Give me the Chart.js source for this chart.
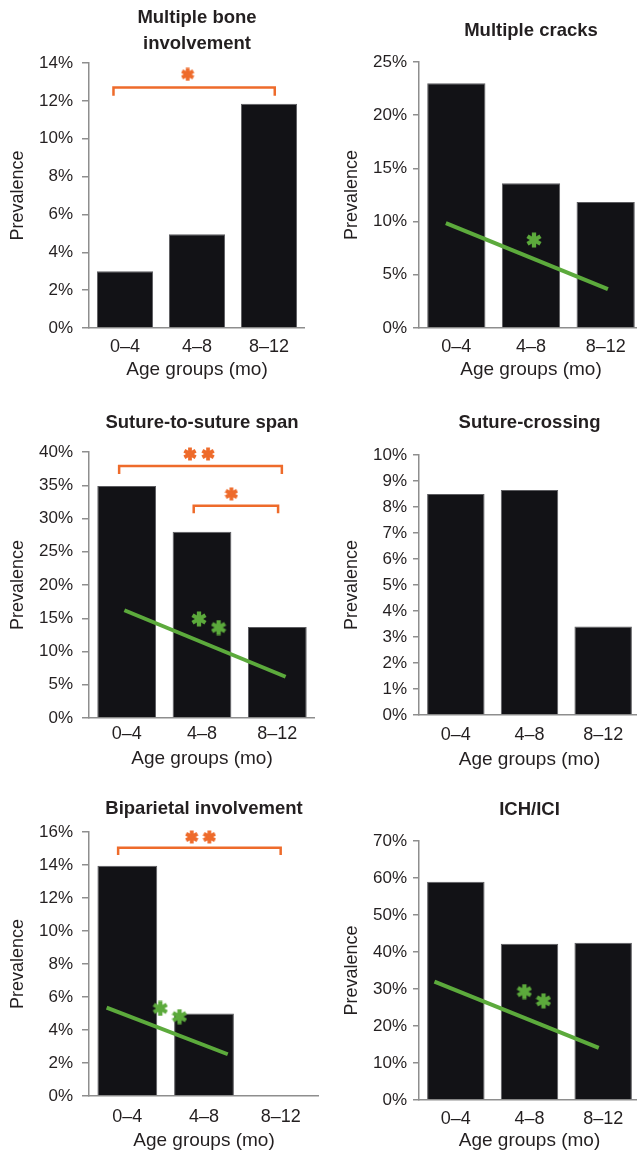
<!DOCTYPE html>
<html>
<head>
<meta charset="utf-8">
<script src="https://cdn.jsdelivr.net/npm/chart.js@4/dist/chart.umd.min.js"></script>
<style>
  body { margin: 0; width: 637px; height: 1152px; overflow: hidden; background: #fff; position: relative; }
  canvas { position: absolute; }
</style>
</head>
<body>
<script>
const ageGroups = ['0–4', '4–8', '8–12']

// prevalence (%) per age group
const boneValues = [3.0, 4.95, 11.85]
const cracksValues = [23.0, 13.6, 11.85]
const spanValues = [34.9, 28.0, 13.7]
const crossingValues = [8.5, 8.65, 3.4]
const biparietalValues = [13.95, 5.0, 0]
const ichValues = [59.0, 42.2, 42.5]

// green trend lines; x is the position on the age axis (0 = first group)
const cracksTrend = [{ x: -0.14, y: 9.85 }, { x: 2.03, y: 3.65 }]
const spanTrend = [{ x: -0.03, y: 16.2 }, { x: 2.11, y: 6.2 }]
const biparietalTrend = [{ x: -0.27, y: 5.35 }, { x: 1.31, y: 2.53 }]
const ichTrend = [{ x: -0.29, y: 32.0 }, { x: 1.94, y: 14.1 }]

// orange brackets: [from, to, level, foot]
const boneBrackets = [[-0.16, 2.08, 12.7, 12.27]]
const spanBrackets = [[-0.1, 2.06, 37.9, 36.7], [0.89, 2.01, 31.9, 30.8]]
const biparietalBrackets = [[-0.12, 2.0, 15.05, 14.6]]

// significance asterisks
const boneOrange = [{ x: 0.87, y: 13.4 }]
const spanOrange = [{ x: 0.84, y: 39.7 }, { x: 1.08, y: 39.7 }, { x: 1.39, y: 33.7 }]
const biparietalOrange = [{ x: 0.84, y: 15.7 }, { x: 1.07, y: 15.7 }]
const cracksGreen = [{ x: 1.04, y: 8.27 }]
const spanGreen = [{ x: 0.96, y: 14.9 }, { x: 1.22, y: 13.6 }]
const biparietalGreen = [{ x: 0.43, y: 5.31 }, { x: 0.68, y: 4.81 }]
const ichGreen = [{ x: 0.93, y: 29.3 }, { x: 1.19, y: 26.8 }]

const ORANGE = '#ee6b2b'
const GREEN = '#5caa3c'
const INK = '#231f20'
const AXIS = '#8e8e8e'
const FONT = "'Liberation Sans', Arial, Helvetica, sans-serif"

function makeStar(color, size) {
  const c = document.createElement('canvas')
  c.width = size
  c.height = size
  const ctx = c.getContext('2d')
  ctx.strokeStyle = color
  ctx.lineWidth = size * 0.27
  ctx.translate(size / 2, size / 2)
  const r = size / 2 - 0.5
  for (let i = 0; i < 3; i++) {
    const a = Math.PI / 2 + (i * Math.PI) / 3
    ctx.beginPath()
    ctx.moveTo(Math.cos(a) * r, Math.sin(a) * r)
    ctx.lineTo(-Math.cos(a) * r, -Math.sin(a) * r)
    ctx.stroke()
  }
  return c
}

const orangeStar = makeStar(ORANGE, 14)
const greenStar = makeStar(GREEN, 16)

function bracketPoints([from, to, level, foot]) {
  return [
    { x: from, y: foot },
    { x: from, y: level },
    { x: to, y: level },
    { x: to, y: foot },
  ]
}

const panels = [
  {
    title: ['Multiple bone', 'involvement'], values: boneValues, max: 14, step: 2,
    x: 0, y: 0, w: 305, h: 390, left: 89, titleTop: 5, titleBottom: 6,
    tickLen: 7, tickPad: 9, yTitle: 7, xPad: 8, xTitle: 9,
    brackets: boneBrackets, orange: boneOrange,
  },
  {
    title: 'Multiple cracks', values: cracksValues, max: 25, step: 5,
    x: 318, y: 0, w: 325, h: 390, left: 101, titleTop: 18, titleBottom: 18,
    tickLen: 6, tickPad: 6, yTitle: 23, xPad: 8, xTitle: 9,
    trend: cracksTrend, green: cracksGreen,
  },
  {
    title: 'Suture-to-suture span', values: spanValues, max: 40, step: 5,
    x: 0, y: 390, w: 315, h: 390, left: 89, titleTop: 20, titleBottom: 16,
    tickLen: 7, tickPad: 9, yTitle: 7, xPad: 5, xTitle: 10,
    trend: spanTrend, green: spanGreen, brackets: spanBrackets, orange: spanOrange,
  },
  {
    title: 'Suture-crossing', values: crossingValues, max: 10, step: 1,
    x: 318, y: 390, w: 322, h: 390, left: 101, titleTop: 20, titleBottom: 19,
    tickLen: 6, tickPad: 6, yTitle: 23, xPad: 9, xTitle: 9,
  },
  {
    title: 'Biparietal involvement', values: biparietalValues, max: 16, step: 2,
    x: 0, y: 780, w: 319, h: 372, left: 89, titleTop: 16, titleBottom: 10,
    tickLen: 7, tickPad: 9, yTitle: 7, xPad: 10, xTitle: 0,
    trend: biparietalTrend, green: biparietalGreen, brackets: biparietalBrackets, orange: biparietalOrange,
  },
  {
    title: 'ICH/ICI', values: ichValues, max: 70, step: 10,
    x: 318, y: 780, w: 322, h: 372, left: 101, titleTop: 17, titleBottom: 18,
    tickLen: 6, tickPad: 6, yTitle: 23, xPad: 8, xTitle: 0,
    trend: ichTrend, green: ichGreen,
  },
]
// bottom edge of each plot area, in panel coordinates
const plotBottoms = [328, 328, 328, 325, 316, 320]

panels.forEach((p, i) => {
  const canvas = document.createElement('canvas')
  canvas.width = p.w
  canvas.height = p.h
  canvas.style.left = p.x + 'px'
  canvas.style.top = p.y + 'px'
  document.body.appendChild(canvas)

  const datasets = [
    {
      type: 'bar',
      data: p.values,
      backgroundColor: '#121216',
      borderColor: '#5c5c60',
      borderWidth: (c) => (c.raw > 0 ? 1 : 0),
      grouped: false,
      barPercentage: 0.78,
      categoryPercentage: 1,
      order: 10,
    },
  ]
  if (p.trend) {
    datasets.push({
      type: 'line', xAxisID: 'xl', data: p.trend,
      borderColor: GREEN, borderWidth: 4, pointRadius: 0, order: 2,
    })
  }
  ;(p.brackets || []).forEach((b) => {
    datasets.push({
      type: 'line', xAxisID: 'xl', data: bracketPoints(b),
      borderColor: ORANGE, borderWidth: 2.5, borderJoinStyle: 'miter', pointRadius: 0, order: 2,
    })
  })
  if (p.orange) {
    datasets.push({
      type: 'scatter', xAxisID: 'xl', data: p.orange, clip: false,
      pointStyle: orangeStar, pointRadius: 7, order: 1,
    })
  }
  if (p.green) {
    datasets.push({
      type: 'scatter', xAxisID: 'xl', data: p.green, clip: false,
      pointStyle: greenStar, pointRadius: 8, order: 1,
    })
  }

  new Chart(canvas, {
    data: { labels: ageGroups, datasets },
    options: {
      responsive: false,
      animation: false,
      devicePixelRatio: 1,
      layout: { padding: 0, autoPadding: false },
      plugins: {
        legend: { display: false },
        tooltip: { enabled: false },
        title: {
          display: true,
          text: p.title,
          fullSize: false,
          color: INK,
          font: { family: FONT, size: 18.5, weight: 'bold', lineHeight: '26px' },
          padding: { top: p.titleTop, bottom: p.titleBottom },
        },
      },
      scales: {
        x: {
          type: 'category',
          offset: true,
          grid: { display: false, drawTicks: false },
          border: { color: AXIS, width: 1.5 },
          ticks: { color: INK, font: { family: FONT, size: 18 }, padding: p.xPad },
          title: {
            display: true, text: 'Age groups (mo)', color: INK,
            font: { family: FONT, size: 19 }, padding: { top: 0, bottom: p.xTitle },
          },
          afterFit: (s) => { s.height = p.h - plotBottoms[i] },
        },
        xl: {
          type: 'linear', display: false, min: -0.5, max: 2.5,
          ticks: { display: false },
        },
        y: {
          min: 0,
          max: p.max,
          grid: { drawOnChartArea: false, tickLength: p.tickLen, color: AXIS, lineWidth: 1.5 },
          border: { color: AXIS, width: 1.5 },
          ticks: {
            stepSize: p.step, color: INK, padding: p.tickPad,
            font: { family: FONT, size: 17 },
            callback: (v) => v + '%',
          },
          title: {
            display: true, text: 'Prevalence', color: INK,
            font: { family: FONT, size: 18 }, padding: { top: p.yTitle, bottom: 0 },
          },
          afterFit: (s) => { s.width = p.left },
        },
      },
    },
  })
})
</script>
</body>
</html>
